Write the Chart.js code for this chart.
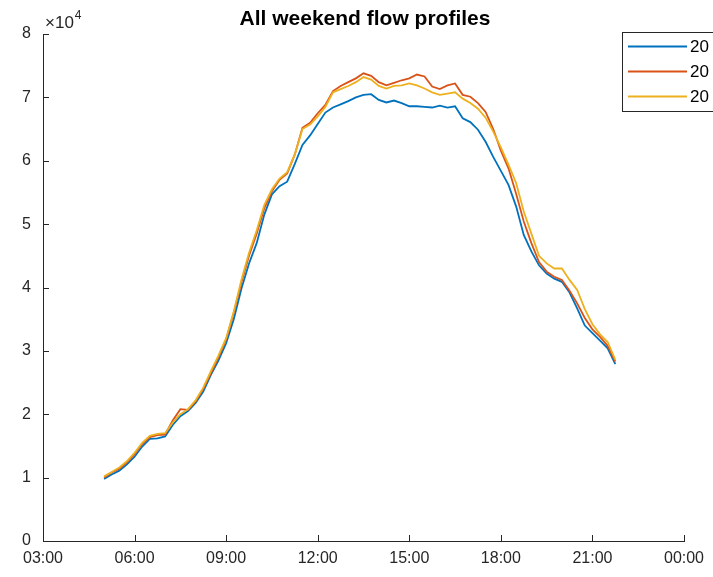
<!DOCTYPE html>
<html>
<head>
<meta charset="utf-8">
<script src="https://cdn.jsdelivr.net/npm/chart.js@4/dist/chart.umd.min.js"></script>
<style>
  html, body { margin: 0; padding: 0; background: #ffffff; }
  #wrap { width: 713px; height: 577px; position: relative; }
</style>
</head>
<body>
<div id="wrap"><canvas id="c" width="713" height="577"></canvas></div>
<script>
// ---- data (flow, vehicles) ----
const times = [
  "05:00","05:15","05:30","05:45","06:00","06:15","06:30","06:45",
  "07:00","07:15","07:30","07:45","08:00","08:15","08:30","08:45",
  "09:00","09:15","09:30","09:45","10:00","10:15","10:30","10:45",
  "11:00","11:15","11:30","11:45","12:00","12:15","12:30","12:45",
  "13:00","13:15","13:30","13:45","14:00","14:15","14:30","14:45",
  "15:00","15:15","15:30","15:45","16:00","16:15","16:30","16:45",
  "17:00","17:15","17:30","17:45","18:00","18:15","18:30","18:45",
  "19:00","19:15","19:30","19:45","20:00","20:15","20:30","20:45",
  "21:00","21:15","21:30","21:45"
];
const seriesNames = ["20", "20", "20"];
const flowA = [
  9800,10500,11100,12100,13300,14900,16100,16200,
  16500,18300,19700,20500,21800,23600,26200,28500,
  31200,35000,39800,43800,47000,51500,54700,56000,
  56700,59500,62500,64000,65800,67600,68400,68900,
  69400,70000,70400,70500,69600,69200,69500,69100,
  68600,68600,68500,68400,68700,68400,68600,66700,
  66100,64900,63000,60600,58400,56200,52800,48300,
  45700,43500,42200,41400,40900,39200,36700,34000,
  32800,31600,30400,27900
];
const flowB = [
  10000,10800,11400,12400,13700,15300,16400,16700,
  16800,19000,20800,20700,22000,24000,26500,29000,
  31800,36000,40800,45000,48500,52500,55200,57000,
  58000,61000,65200,66000,67500,68800,71000,71800,
  72400,73000,73800,73400,72400,71900,72300,72700,
  73000,73600,73300,71700,71300,71900,72200,70400,
  70100,69100,67700,65000,61600,58800,54800,50400,
  47000,44000,42500,41700,41200,39500,37500,35200,
  33400,32200,30800,28300
];
const flowC = [
  10200,10900,11600,12600,13900,15500,16600,16900,
  17000,18700,20000,20800,22200,24200,26800,29300,
  32000,36200,41200,45500,49000,53000,55500,57200,
  58200,61000,65000,65700,67000,68500,70800,71300,
  71800,72400,73200,72800,71800,71400,71800,71900,
  72200,71900,71400,70800,70400,70600,70800,69800,
  69100,68200,66800,64600,62100,59400,56500,52000,
  48500,45000,43800,43000,43000,41200,39600,36600,
  34200,32600,31400,28600
];
const xTickHours = [3, 6, 9, 12, 15, 18, 21, 24];
const xTickLabels = ["03:00","06:00","09:00","12:00","15:00","18:00","21:00","00:00"];
const yTickValues = [0, 10000, 20000, 30000, 40000, 50000, 60000, 70000, 80000];
const yTickLabels = ["0","1","2","3","4","5","6","7","8"];
const chartTitle = "All weekend flow profiles";
const yExponentBase = "\u00D710";
const yExponent = "4";

// ---- build ----
function toHour(s) { const p = s.split(":"); return +p[0] + (+p[1]) / 60; }
function pts(vals) { return vals.map((v, i) => ({ x: toHour(times[i]), y: v })); }

const colors = ["#0072BD", "#D95319", "#EDB120"];
const AXIS = "#262626";
const FONT = "'Liberation Sans', Arial, Helvetica, sans-serif";

const overlayPlugin = {
  id: "overlay",
  afterDraw(chart) {
    const ctx = chart.ctx;
    const xs = chart.scales.x, ys = chart.scales.y;
    const a = chart.chartArea;
    ctx.save();
    // inward tick marks
    ctx.strokeStyle = AXIS;
    ctx.lineWidth = 1;
    ctx.beginPath();
    xTickHours.forEach(h => {
      const px = Math.round(xs.getPixelForValue(h)) + 0.5;
      ctx.moveTo(px, a.bottom); ctx.lineTo(px, a.bottom - 6);
    });
    yTickValues.forEach(v => {
      const py = Math.round(ys.getPixelForValue(v)) + 0.5;
      ctx.moveTo(a.left, py); ctx.lineTo(a.left + 6, py);
    });
    ctx.stroke();

    // title
    ctx.fillStyle = "#000000";
    ctx.font = "bold 21px " + FONT;
    ctx.textAlign = "center";
    ctx.textBaseline = "middle";
    ctx.fillText(chartTitle, 365, 19);

    // exponent label
    ctx.fillStyle = AXIS;
    ctx.textAlign = "left";
    ctx.textBaseline = "alphabetic";
    ctx.font = "17px " + FONT;
    ctx.fillText(yExponentBase, a.left + 2, 28);
    const w = ctx.measureText(yExponentBase).width;
    ctx.font = "12px " + FONT;
    ctx.fillText(yExponent, a.left + 2 + w + 1, 19);

    // legend box (extends past the right edge, as in the reference)
    const lx = 622, ly = 32, lw = 110, lh = 79;
    ctx.fillStyle = "#ffffff";
    ctx.fillRect(lx, ly, lw, lh);
    ctx.strokeStyle = "#262626";
    ctx.lineWidth = 1;
    ctx.strokeRect(lx + 0.5, ly + 0.5, lw, lh);
    ctx.font = "17px " + FONT;
    ctx.textBaseline = "middle";
    chart.data.datasets.forEach((ds, i) => {
      const yy = 46.5 + i * 25;
      ctx.strokeStyle = ds.borderColor;
      ctx.lineWidth = 1.8;
      ctx.beginPath();
      ctx.moveTo(628, yy); ctx.lineTo(687, yy);
      ctx.stroke();
      ctx.fillStyle = "#000000";
      ctx.fillText(ds.label, 690, yy + 1);
    });
    ctx.restore();
  }
};

new Chart(document.getElementById("c"), {
  type: "line",
  data: {
    datasets: [flowA, flowB, flowC].map((vals, i) => ({
      label: seriesNames[i],
      data: pts(vals),
      borderColor: colors[i],
      backgroundColor: colors[i],
      borderWidth: 1.8,
      pointRadius: 0,
      tension: 0,
      fill: false,
      order: 3 - i
    }))
  },
  options: {
    responsive: false,
    animation: false,
    devicePixelRatio: 1,
    layout: { padding: { left: 0, right: 29, top: 34, bottom: 0 } },
    plugins: {
      legend: { display: false },
      title: { display: false },
      tooltip: { enabled: false }
    },
    scales: {
      x: {
        type: "linear",
        min: 3, max: 24,
        afterBuildTicks(scale) { scale.ticks = xTickHours.map(v => ({ value: v })); },
        afterFit(scale) { scale.height = 36; },
        ticks: {
          autoSkip: false,
          maxRotation: 0,
          padding: 8,
          color: AXIS,
          font: { family: FONT, size: 16 },
          callback(v) { const i = xTickHours.indexOf(v); return i >= 0 ? xTickLabels[i] : ""; }
        },
        grid: { display: false, drawTicks: false },
        border: { display: true, color: AXIS, width: 1 }
      },
      y: {
        type: "linear",
        min: 0, max: 80000,
        afterBuildTicks(scale) { scale.ticks = yTickValues.map(v => ({ value: v })); },
        afterFit(scale) { scale.width = 43; },
        ticks: {
          autoSkip: false,
          padding: 12,
          color: AXIS,
          font: { family: FONT, size: 16 },
          callback(v) { const i = yTickValues.indexOf(v); return i >= 0 ? yTickLabels[i] : ""; }
        },
        grid: { display: false, drawTicks: false },
        border: { display: true, color: AXIS, width: 1 }
      }
    }
  },
  plugins: [overlayPlugin]
});
</script>
</body>
</html>
